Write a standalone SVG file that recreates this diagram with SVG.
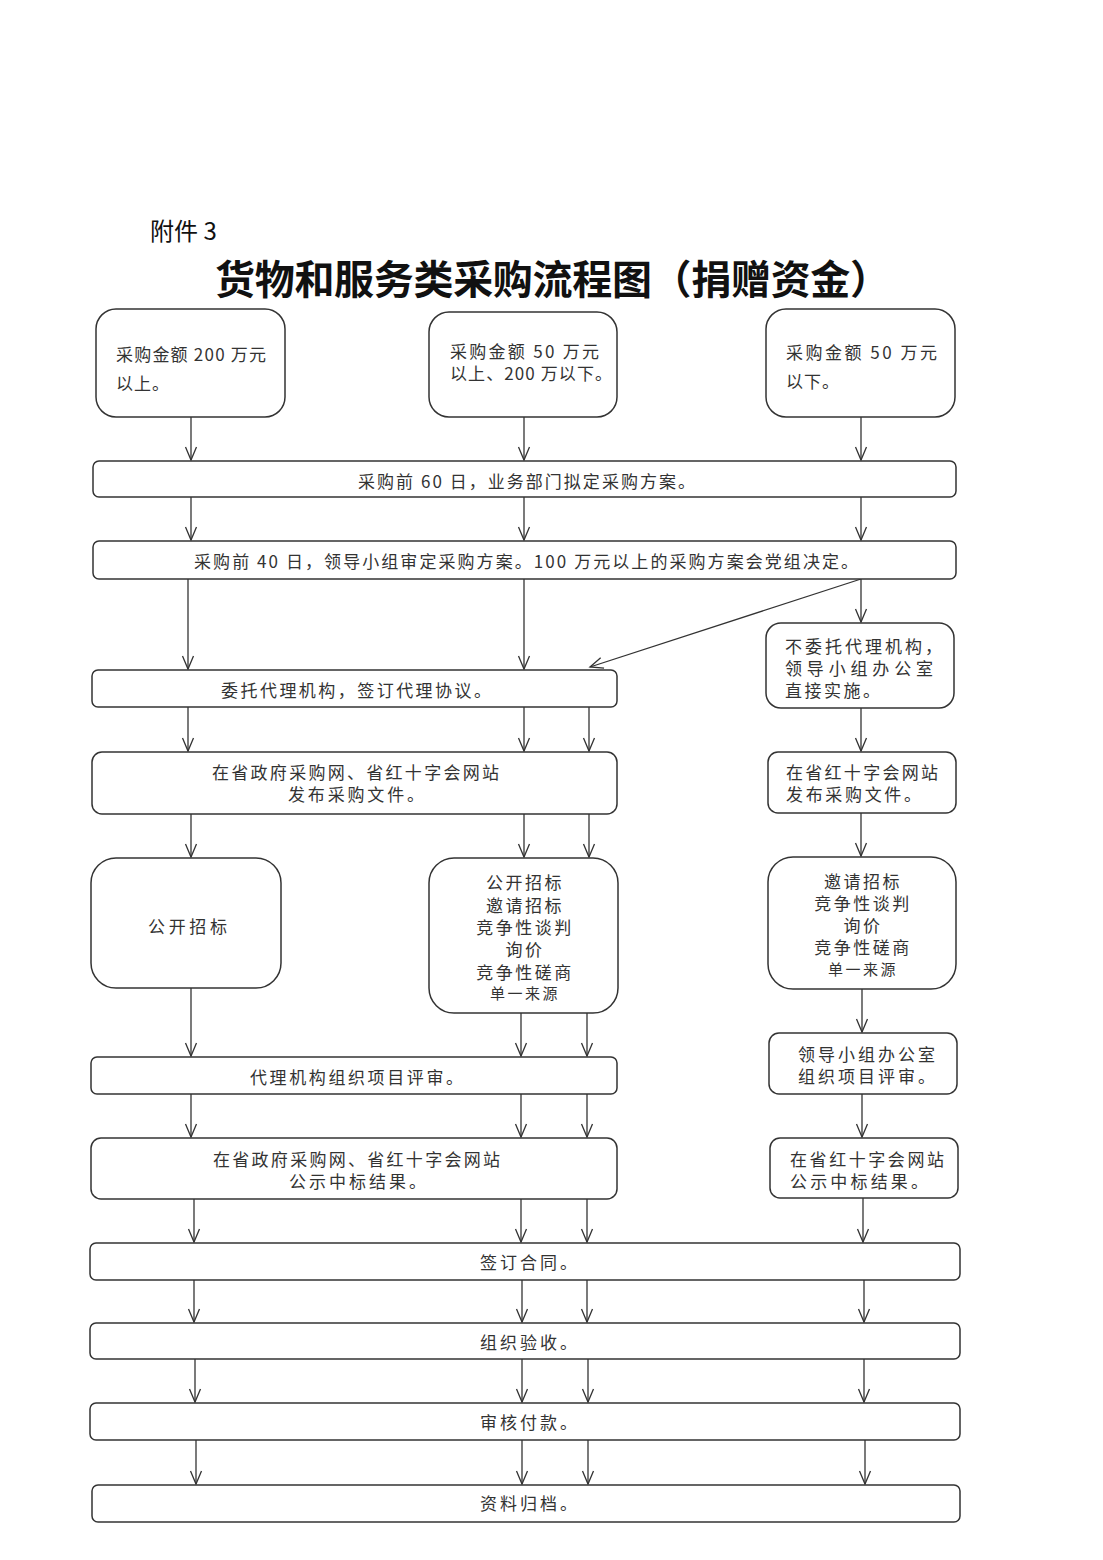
<svg xmlns="http://www.w3.org/2000/svg" width="1103" height="1560" viewBox="0 0 1103 1560">
<defs>
<marker id="ah" markerUnits="userSpaceOnUse" markerWidth="16" markerHeight="12" refX="14" refY="6" orient="auto" overflow="visible">
<path d="M1,0.5 L14,6 L1,11.5" fill="none" stroke="#333" stroke-width="1.3"/>
</marker>
<style>
.box{fill:#fff;stroke:#333;stroke-width:1.5}
.t{font-family:"Noto Sans CJK SC","Noto Sans CJK TC",sans-serif;font-size:17px;fill:#333}
.c{text-anchor:middle;letter-spacing:2.5px}
.s{font-size:15px}
.ln{fill:none;stroke:#333;stroke-width:1.3;marker-end:url(#ah)}
.hd{font-family:"Noto Sans CJK SC",sans-serif;fill:#111}
</style>
</defs>
<rect width="1103" height="1560" fill="#fff"/>
<text class="hd" x="150" y="240" font-size="24">附件 3</text>
<text class="hd" x="215" y="294" font-size="40" font-weight="bold" textLength="675" lengthAdjust="spacing">货物和服务类采购流程图（捐赠资金）</text>

<g id="connectors">
<path class="ln" d="M191,417V460"/>
<path class="ln" d="M524,417V460"/>
<path class="ln" d="M861,417V460"/>
<path class="ln" d="M191,497V540"/>
<path class="ln" d="M524,497V540"/>
<path class="ln" d="M861,497V540"/>
<path class="ln" d="M188,579V669"/>
<path class="ln" d="M524,579V669"/>
<path class="ln" d="M861,579L590,667"/>
<path class="ln" d="M861,579V622"/>
<path class="ln" d="M188,707V751"/>
<path class="ln" d="M524,707V751"/>
<path class="ln" d="M589,707V751"/>
<path class="ln" d="M861,708V751"/>
<path class="ln" d="M191,814V857"/>
<path class="ln" d="M524,814V857"/>
<path class="ln" d="M589,814V857"/>
<path class="ln" d="M861,813V856"/>
<path class="ln" d="M191,988V1056"/>
<path class="ln" d="M521,1013V1056"/>
<path class="ln" d="M587,1013V1056"/>
<path class="ln" d="M862,989V1032"/>
<path class="ln" d="M191,1094V1137"/>
<path class="ln" d="M521,1094V1137"/>
<path class="ln" d="M587,1094V1137"/>
<path class="ln" d="M862,1094V1137"/>
<path class="ln" d="M194,1199V1242"/>
<path class="ln" d="M521,1199V1242"/>
<path class="ln" d="M587,1199V1242"/>
<path class="ln" d="M863,1198V1242"/>
<path class="ln" d="M194,1280V1322"/>
<path class="ln" d="M522,1280V1322"/>
<path class="ln" d="M587,1280V1322"/>
<path class="ln" d="M864,1280V1322"/>
<path class="ln" d="M195,1359V1402"/>
<path class="ln" d="M522,1359V1402"/>
<path class="ln" d="M588,1359V1402"/>
<path class="ln" d="M864,1359V1402"/>
<path class="ln" d="M196,1440V1484"/>
<path class="ln" d="M522,1440V1484"/>
<path class="ln" d="M588,1440V1484"/>
<path class="ln" d="M865,1440V1484"/>
</g>

<g id="n-a1"><rect class="box" x="96" y="309" width="189" height="108" rx="20"/>
<text class="t" x="116" y="361" textLength="150" lengthAdjust="spacing">采购金额 200 万元</text>
<text class="t" x="116" y="390" letter-spacing="1">以上。</text></g>
<g id="n-a2"><rect class="box" x="429" y="312" width="188" height="105" rx="20"/>
<text class="t" x="450" y="358" textLength="149" lengthAdjust="spacing">采购金额 50 万元</text>
<text class="t" x="450" y="380" textLength="162" lengthAdjust="spacing">以上、200 万以下。</text></g>
<g id="n-a3"><rect class="box" x="766" y="309" width="189" height="108" rx="20"/>
<text class="t" x="786" y="359" textLength="151" lengthAdjust="spacing">采购金额 50 万元</text>
<text class="t" x="786" y="388" letter-spacing="1">以下。</text></g>

<g id="n-b"><rect class="box" x="93" y="461" width="863" height="36" rx="6"/>
<text class="t" x="358" y="488" textLength="337" lengthAdjust="spacing">采购前 60 日，业务部门拟定采购方案。</text></g>
<g id="n-c"><rect class="box" x="93" y="541" width="863" height="38" rx="6"/>
<text class="t" x="194" y="568" textLength="664" lengthAdjust="spacing">采购前 40 日，领导小组审定采购方案。100 万元以上的采购方案会党组决定。</text></g>

<g id="n-d"><rect class="box" x="92" y="670" width="525" height="37" rx="6"/>
<text class="t" x="221" y="697" textLength="270" lengthAdjust="spacing">委托代理机构，签订代理协议。</text></g>
<g id="n-d2"><rect class="box" x="766" y="623" width="188" height="85" rx="15"/>
<text class="t" x="785" y="653" textLength="157" lengthAdjust="spacing">不委托代理机构，</text>
<text class="t" x="785" y="675" textLength="148" lengthAdjust="spacing">领导小组办公室</text>
<text class="t" x="785" y="697" textLength="95" lengthAdjust="spacing">直接实施。</text></g>

<g id="n-e"><rect class="box" x="92" y="752" width="525" height="62" rx="10"/>
<text class="t" x="212" y="779" textLength="287" lengthAdjust="spacing">在省政府采购网、省红十字会网站</text>
<text class="t" x="288" y="801" textLength="136" lengthAdjust="spacing">发布采购文件。</text></g>
<g id="n-e2"><rect class="box" x="768" y="752" width="188" height="61" rx="10"/>
<text class="t" x="786" y="779" textLength="152" lengthAdjust="spacing">在省红十字会网站</text>
<text class="t" x="786" y="801" textLength="135" lengthAdjust="spacing">发布采购文件。</text></g>

<g id="n-f1"><rect class="box" x="91" y="858" width="190" height="130" rx="25"/>
<text class="t" x="148" y="933" textLength="79" lengthAdjust="spacing">公开招标</text></g>
<g id="n-f2"><rect class="box" x="429" y="858" width="189" height="155" rx="25"/>
<text class="t c" x="525" y="889">公开招标</text>
<text class="t c" x="525" y="912">邀请招标</text>
<text class="t c" x="525" y="934">竞争性谈判</text>
<text class="t c" x="525" y="956">询价</text>
<text class="t c" x="525" y="979">竞争性磋商</text>
<text class="t c s" x="525" y="999">单一来源</text></g>
<g id="n-f3"><rect class="box" x="768" y="857" width="188" height="132" rx="25"/>
<text class="t c" x="863" y="888">邀请招标</text>
<text class="t c" x="863" y="910">竞争性谈判</text>
<text class="t c" x="863" y="932">询价</text>
<text class="t c" x="863" y="954">竞争性磋商</text>
<text class="t c s" x="863" y="975">单一来源</text></g>

<g id="n-g"><rect class="box" x="91" y="1057" width="526" height="37" rx="6"/>
<text class="t" x="250" y="1084" textLength="213" lengthAdjust="spacing">代理机构组织项目评审。</text></g>
<g id="n-g2"><rect class="box" x="769" y="1033" width="188" height="61" rx="10"/>
<text class="t" x="798" y="1061" textLength="137" lengthAdjust="spacing">领导小组办公室</text>
<text class="t" x="798" y="1083" textLength="137" lengthAdjust="spacing">组织项目评审。</text></g>

<g id="n-h"><rect class="box" x="91" y="1138" width="526" height="61" rx="10"/>
<text class="t" x="213" y="1166" textLength="287" lengthAdjust="spacing">在省政府采购网、省红十字会网站</text>
<text class="t" x="289" y="1188" textLength="137" lengthAdjust="spacing">公示中标结果。</text></g>
<g id="n-h2"><rect class="box" x="770" y="1138" width="188" height="60" rx="10"/>
<text class="t" x="790" y="1166" textLength="154" lengthAdjust="spacing">在省红十字会网站</text>
<text class="t" x="790" y="1188" textLength="138" lengthAdjust="spacing">公示中标结果。</text></g>

<g id="n-i"><rect class="box" x="90" y="1243" width="870" height="37" rx="6"/>
<text class="t" x="480" y="1269" textLength="97" lengthAdjust="spacing">签订合同。</text></g>
<g id="n-j"><rect class="box" x="90" y="1323" width="870" height="36" rx="6"/>
<text class="t" x="480" y="1349" textLength="97" lengthAdjust="spacing">组织验收。</text></g>
<g id="n-k"><rect class="box" x="90" y="1403" width="870" height="37" rx="6"/>
<text class="t" x="480" y="1429" textLength="97" lengthAdjust="spacing">审核付款。</text></g>
<g id="n-l"><rect class="box" x="92" y="1485" width="868" height="37" rx="6"/>
<text class="t" x="480" y="1510" textLength="97" lengthAdjust="spacing">资料归档。</text></g>
</svg>
